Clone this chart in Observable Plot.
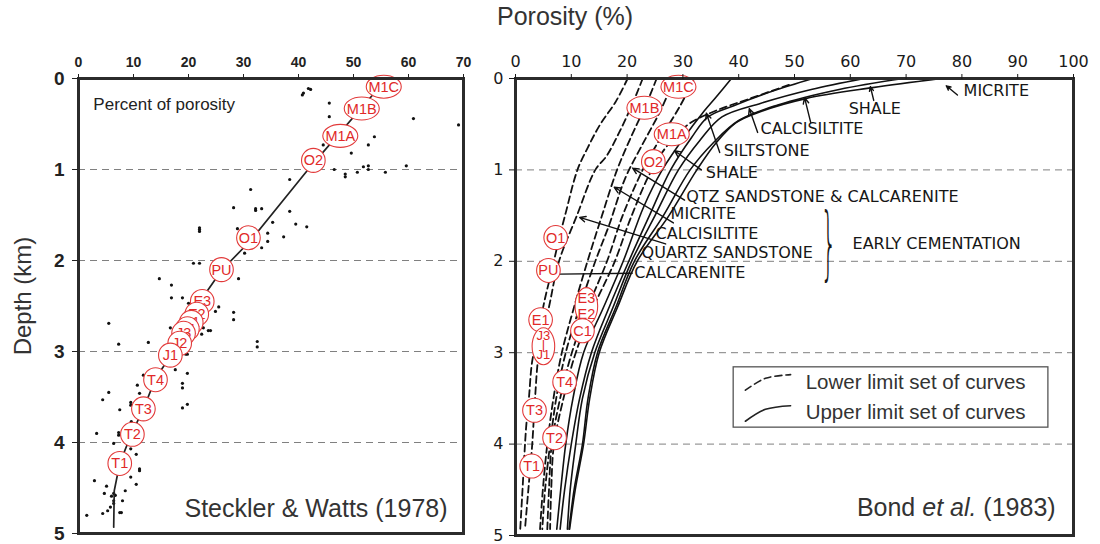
<!DOCTYPE html>
<html><head><meta charset="utf-8">
<script src="https://cdn.jsdelivr.net/npm/d3@7"></script>
<script src="https://cdn.jsdelivr.net/npm/@observablehq/plot@0.6"></script>
<style>
body{margin:0;background:#fff;}
#wrap{position:relative;width:1100px;height:544px;overflow:hidden;font-family:"Liberation Sans",Arial,sans-serif;background:#fff;}
#left{position:absolute;left:0;top:0;}
#right{position:absolute;left:480px;top:0;}
#title{position:absolute;left:497px;top:2px;font-size:25px;color:#333;white-space:nowrap;}
#ylab{position:absolute;left:23px;top:296px;transform:translate(-50%,-50%) rotate(-90deg);font-size:24px;color:#333;white-space:nowrap;}
</style></head><body>
<div id="wrap"><div id="left"></div><div id="right"></div><div id="title">Porosity (%)</div><div id="ylab">Depth (km)</div></div>
<script>
// ---------- data ----------
const leftTicks = [0,10,20,30,40,50,60,70];
const rightTicks = [0,10,20,30,40,50,60,70,80,90,100];
const depthTicks = [0,1,2,3,4,5];
const gridDepths = [1,2,3,4];

// Steckler & Watts (1978): [porosity %, depth km]
const stecklerPoints = [
[40.7,0.18],[40.9,0.16],[41.8,0.11],[42.2,0.12],[45.6,0.27],[45.6,0.42],[60.9,0.44],[69.1,0.51],[53.8,0.64],[52.7,0.73],[44.5,0.73],[49.6,0.82],[46.5,1.00],[48.5,1.05],[48.5,1.08],[50.7,1.03],[51.8,0.97],[52.7,0.96],[52.7,1.00],[55.8,1.03],[59.6,0.96],[38.4,1.11],[31.3,1.22],[28.2,1.42],[32.2,1.43],[32.2,1.45],[33.3,1.43],[38.4,1.46],[35.3,1.58],[39.5,1.60],[41.5,1.63],[28.9,1.65],[22.0,1.64],[22.0,1.66],[22.0,1.68],[34.4,1.70],[34.4,1.79],[37.3,1.74],[33.3,1.86],[30.2,1.92],[20.9,2.03],[22.0,2.03],[29.1,2.20],[14.7,2.20],[16.9,2.27],[16.9,2.41],[18.9,2.41],[20.0,2.47],[25.5,2.51],[24.9,2.56],[28.2,2.57],[28.2,2.65],[5.5,2.69],[16.7,2.74],[22.7,2.74],[23.6,2.77],[24.0,2.77],[22.4,2.81],[32.5,2.89],[32.5,2.95],[7.3,2.92],[12.7,2.90],[19.5,3.03],[19.8,3.03],[17.6,3.20],[19.8,3.24],[11.8,3.26],[18.9,3.35],[18.9,3.40],[10.7,3.37],[5.5,3.45],[11.1,3.46],[4.4,3.53],[9.5,3.56],[9.5,3.59],[19.8,3.58],[18.9,3.62],[7.5,3.64],[9.6,3.77],[7.3,3.89],[7.3,3.92],[3.3,3.90],[6.4,4.01],[9.5,4.07],[10.5,4.13],[11.1,4.29],[11.1,4.31],[9.5,4.38],[2.9,4.42],[10.5,4.46],[5.1,4.48],[8.5,4.53],[4.7,4.56],[6.4,4.56],[6.7,4.58],[6.4,4.64],[6.4,4.67],[6.0,4.59],[8.0,4.64],[5.8,4.71],[5.3,4.75],[7.5,4.77],[7.8,4.77],[4.4,4.78],[1.5,4.80]
];
const stecklerTrend = [[54.5,0.11],[41.6,1.01],[31.3,1.78],[26.0,2.11],[22.2,2.44],[18.5,2.88],[16.7,3.05],[14.0,3.30],[11.8,3.63],[9.6,3.91],[7.5,4.23],[6.5,4.53],[6.4,4.93]];
const stecklerLabels = [["M1C",55.5,0.09],["M1B",51.5,0.33],["M1A",47.6,0.63],["O2",42.7,0.90],["O1",30.9,1.75],["PU",26.0,2.10],["E3",22.5,2.45],["E2",21.5,2.59],["E1",20.5,2.68],["C1",19.8,2.75],["J3",19.1,2.80],["J2",18.4,2.91],["J1",16.7,3.04],["T4",14.0,3.31],["T3",11.8,3.63],["T2",9.8,3.91],["T1",7.5,4.23]];
const stecklerNotes = [["Percent of porosity",2.7,0.29]];
const stecklerCredit = [["Steckler & Watts (1978)",67.1,4.73]];

// Bond et al. (1983)
const lowerLimitCurves = [
 [[20.1,0],[18,0.25],[15.2,0.5],[13,0.75],[11.1,1.0],[9,1.47],[7.9,1.73],[6.5,2.1],[5.1,2.46],[4.0,2.82],[3.0,3.09],[2.4,3.5],[1.9,3.82],[1.2,4.56],[0.85,4.93]],
 [[22.8,0],[20.8,0.3],[18.5,0.6],[16.3,0.85],[14.3,1.0],[11,1.5],[7.8,2.0],[6.0,2.5],[4.2,3.0],[3.5,3.5],[3.0,4.0],[2.3,4.5],[1.7,4.93]],
 [[25.3,0],[23.3,0.3],[21,0.6],[18.2,1.0],[15.5,1.5],[12.9,2.0],[10.5,2.5],[8.3,3.0],[6.8,3.5],[5.7,4.0],[4.9,4.5],[4.4,4.93]],
 [[28.5,0],[26,0.35],[22.5,0.75],[19.6,1.1],[16.8,1.6],[14.3,2.0],[11.5,2.5],[9.0,3.0],[7.3,3.5],[6.2,4.0],[5.3,4.5],[4.8,4.93]],
 [[32,0],[29.5,0.3],[26,0.65],[22.8,1.0],[19.2,1.5],[16.4,2.0],[13,2.5],[10.1,3.0],[8,3.5],[6.5,4.0],[6.0,4.5],[5.7,4.93]],
 [[49,0.07],[42,0.22],[36,0.35],[31,0.5],[27,0.75],[24,1.05],[20.5,1.55],[17.8,2.0],[14,2.5],[10.8,3.0],[8.6,3.5],[6.9,4.0],[6.4,4.5],[6.2,4.93]]
];
const upperLimitCurves = [
 [[38.7,0],[36,0.2],[33.5,0.38],[30.5,0.62],[26.3,1.0],[23,1.4],[19.3,2.0],[15.8,2.5],[12.2,3.0],[10.3,3.5],[9.0,4.0],[8.1,4.5],[7.4,4.93]],
 [[53.3,0],[46,0.14],[39,0.3],[34.5,0.42],[31.5,0.65],[27.8,1.0],[24,1.5],[20.3,2.0],[16.8,2.5],[13.6,3.0],[11.5,3.5],[10.0,4.0],[8.8,4.5],[8.0,4.93]],
 [[62.5,0],[53,0.12],[44,0.27],[37,0.42],[33,0.68],[29.2,1.0],[25,1.5],[20.8,2.0],[17.5,2.5],[14.2,3.0],[12,3.5],[10.8,4.0],[9.8,4.5],[9.3,4.93]],
 [[69.5,0],[58,0.12],[47,0.29],[40,0.46],[35.5,0.7],[31.3,1.0],[26.5,1.5],[21.3,2.0],[18,2.5],[14.7,3.0],[13,3.5],[12,4.0],[10.5,4.5],[9.6,4.93]],
 [[76.3,0],[64,0.1],[52,0.22],[44,0.36],[39.6,0.48],[36,0.7],[32.5,1.0],[27.5,1.5],[21.8,2.0],[18.3,2.5],[15.0,3.0],[13.3,3.5],[12.2,4.0],[10.7,4.5],[9.7,4.93]]
];
const bondLabels = [["M1C",29.2,0.09],["M1B",23.1,0.32],["M1A",28.0,0.61],["O2",24.7,0.91],["O1",7.2,1.74],["PU",5.9,2.10],["E3\nE2",12.7,2.49],["E1",4.5,2.64],["C1",12.0,2.76],["J3\n|\nJ1",5.0,2.93],["T4",8.8,3.32],["T3",3.4,3.63],["T2",7.0,3.93],["T1",2.9,4.24]];
const lithologyNames = [["MICRITE",80.3,0.13],["SHALE",59.7,0.33],["CALCISILTITE",43.9,0.55],["SILTSTONE",37.3,0.79],["SHALE",34.1,1.03],["QTZ SANDSTONE & CALCARENITE",30.6,1.29],["MICRITE",27.8,1.48],["CALCISILTITE",25.1,1.70],["QUARTZ SANDSTONE",22.6,1.91],["CALCARENITE",21.3,2.13],["EARLY CEMENTATION",60.4,1.81]];
const pointers = [[79.2,0.18,77.2,0.08],[64.2,0.24,63.6,0.09],[43.4,0.59,41.9,0.33],[52.9,0.48,51.8,0.21],[36.6,0.81,34.2,0.38],[33.3,1.0,28.5,0.79],[30.3,1.33,21.0,0.98],[28.3,1.58,17.7,1.19],[26.9,1.81,11.5,1.52]];
const leaders = [[21.0,2.13,7.9,2.14]];
const braces = [["}",56.1,1.81]];
const legendBox = [[39.1,95.5,3.16,3.82]];
const legendLower = [[41.2,3.41],[44.8,3.28],[49.3,3.24]];
const legendUpper = [[41.2,3.75],[44.8,3.62],[49.3,3.58]];
const legendTexts = [["Lower limit set of curves",52.0,3.33],["Upper limit set of curves",52.0,3.65]];
const bondCredit = [["Bond et al. (1983)",96.8,4.70]];

// ---------- helpers ----------
function ellipseSymbol(rx, ry){ const k=0.5523; return {draw(c){ c.moveTo(rx,0); c.bezierCurveTo(rx,ry*k,rx*k,ry,0,ry); c.bezierCurveTo(-rx*k,ry,-rx,ry*k,-rx,0); c.bezierCurveTo(-rx,-ry*k,-rx*k,-ry,0,-ry); c.bezierCurveTo(rx*k,-ry,rx,-ry*k,rx,0); c.closePath(); }}; }
const wideE = ellipseSymbol(17.5,11.5), tallE = ellipseSymbol(11.3,18.5), roundE = ellipseSymbol(11.8,12);
function shapeFor(name){ if(name.includes("\n")) return tallE; if(name.length>=3) return wideE; return roundE; }
function labelMarks(list){
  return list.flatMap(d => [
    Plot.dot([d], {x:d=>d[1], y:d=>d[2], symbol:shapeFor(d[0]), r:5, fill:"white", stroke:"#e23a3a", strokeWidth:1.1}),
    Plot.text([d], {x:d=>d[1], y:d=>d[2], text:d=>d[0], fill:"#e12828", fontSize: d[0].includes("|") ? 13 : 14.5, fontFamily:"Liberation Sans, Arial, sans-serif", lineHeight: d[0].includes("|") ? 0.74 : 1.08})
  ]);
}
const flat = curves => curves.flatMap((c,i)=>c.map(p=>({x:p[0], y:p[1], id:i})));
const font = "Liberation Sans, Arial, sans-serif";
const letterFont = "DejaVu Sans, sans-serif";

// ---------- left panel ----------
const left = Plot.plot({
  width:480, height:544, marginLeft:78, marginRight:17, marginTop:78, marginBottom:11,
  style:{fontFamily:font, background:"transparent", overflow:"visible"},
  x:{domain:[0,70]}, y:{domain:[0,5], reverse:true},
  marks:[
    Plot.ruleY(gridDepths, {stroke:"#808080", strokeWidth:1, strokeDasharray:"7,5"}),
    Plot.dot(stecklerPoints, {x:d=>d[0], y:d=>d[1], r:1.6, fill:"#111", stroke:null}),
    Plot.line(stecklerTrend, {x:d=>d[0], y:d=>d[1], stroke:"#222", strokeWidth:1.7}),
    ...labelMarks(stecklerLabels),
    Plot.text(stecklerNotes, {x:d=>d[1], y:d=>d[2], text:d=>d[0], textAnchor:"start", fontSize:17, fill:"#222"}),
    Plot.text(stecklerCredit, {x:d=>d[1], y:d=>d[2], text:d=>d[0], textAnchor:"end", fontSize:25, fill:"#333"}),
    Plot.frame({stroke:"#2b2b2b", strokeWidth:3}),
    Plot.axisX({anchor:"top", ticks:leftTicks, tickSize:5, tickPadding:7, fontSize:14, fontWeight:"bold", color:"#222", label:null, tickFormat:d=>String(d)}),
    Plot.axisY({anchor:"left", ticks:depthTicks, tickSize:6, tickPadding:8, fontSize:19, fontWeight:"bold", color:"#222", label:null, tickFormat:d=>String(d)})
  ]
});
document.getElementById("left").append(left);

// ---------- right panel ----------
const right = Plot.plot({
  width:620, height:544, marginLeft:35, marginRight:27, marginTop:78, marginBottom:9,
  style:{fontFamily:letterFont, background:"transparent", overflow:"visible"},
  x:{domain:[0,100]}, y:{domain:[0,5], reverse:true},
  marks:[
    Plot.ruleY(gridDepths, {stroke:"#808080", strokeWidth:1, strokeDasharray:"7,5"}),
    Plot.line(flat(lowerLimitCurves), {x:"x", y:"y", z:"id", curve:"catmull-rom", stroke:"#111", strokeWidth:1.8, strokeDasharray:"7,4", clip:true}),
    Plot.line(flat(upperLimitCurves), {x:"x", y:"y", z:"id", curve:"catmull-rom", stroke:"#111", strokeWidth:1.6, clip:true}),
    Plot.arrow(pointers, {x1:d=>d[0], y1:d=>d[1], x2:d=>d[2], y2:d=>d[3], stroke:"#111", strokeWidth:1.4, headLength:7, headAngle:50}),
    Plot.link(leaders, {x1:d=>d[0], y1:d=>d[1], x2:d=>d[2], y2:d=>d[3], stroke:"#111", strokeWidth:1.4}),
    Plot.text(lithologyNames, {x:d=>d[1], y:d=>d[2], text:d=>d[0], textAnchor:"start", fontSize:16, fill:"#161616", fontFamily:letterFont}),
    Plot.text(braces, {x:d=>d[1], y:d=>d[2], text:d=>d[0], fontSize:80, fontWeight:200, fill:"#161616", fontFamily:letterFont}),
    ...labelMarks(bondLabels),
    Plot.rect(legendBox, {x1:d=>d[0], x2:d=>d[1], y1:d=>d[2], y2:d=>d[3], fill:"white", stroke:"#555", strokeWidth:1.3}),
    Plot.line(legendLower, {x:d=>d[0], y:d=>d[1], curve:"catmull-rom", stroke:"#222", strokeWidth:1.6, strokeDasharray:"7,4"}),
    Plot.line(legendUpper, {x:d=>d[0], y:d=>d[1], curve:"catmull-rom", stroke:"#222", strokeWidth:1.6}),
    Plot.text(legendTexts, {x:d=>d[1], y:d=>d[2], text:d=>d[0], textAnchor:"start", fontSize:20.5, fill:"#333", fontFamily:font}),
    Plot.text(bondCredit, {x:d=>d[1], y:d=>d[2], text:d=>d[0], textAnchor:"end", fontSize:25, fill:"#333", fontFamily:font}),
    Plot.frame({stroke:"#2b2b2b", strokeWidth:3}),
    Plot.axisX({anchor:"top", ticks:rightTicks, tickSize:5, tickPadding:7, fontSize:16, color:"#1a1a1a", label:null, fontFamily:letterFont, tickFormat:d=>String(d)}),
    Plot.axisY({anchor:"left", ticks:depthTicks, tickSize:6, tickPadding:6, fontSize:16, color:"#1a1a1a", label:null, fontFamily:letterFont, tickFormat:d=>String(d)})
  ]
});
document.getElementById("right").append(right);

// ---------- text touch-ups ----------
right.querySelectorAll("text").forEach(t=>{
  if (t.textContent === "Bond et al. (1983)") {
    t.innerHTML = 'Bond <tspan font-style="italic">et al.</tspan> (1983)';
  } else if (t.textContent === "}") {
    const x = t.getAttribute("x"), y = t.getAttribute("y");
    if (x != null && y != null) t.setAttribute("transform", `translate(${x},${y}) scale(0.32,1) translate(${-x},${-y})`);
    else t.setAttribute("transform", (t.getAttribute("transform")||"") + " scale(0.32,1)");
  }
});
</script></body></html>
